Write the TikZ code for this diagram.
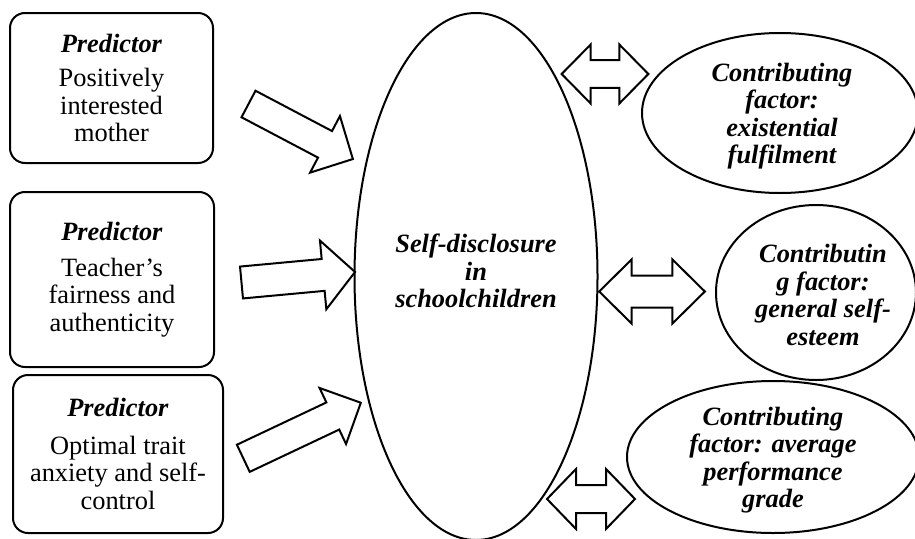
\documentclass[tikz,border=0pt]{standalone}
\usepackage{fontspec}
\setmainfont{Liberation Serif}
\usetikzlibrary{shapes.geometric}
\tikzset{
  base/.style={font=\fontsize{26.4}{27.5}\selectfont, align=center, inner sep=0pt},
  predbox/.style={base, draw, line width=2pt, rounded corners=15pt},
  ell/.style={draw, ellipse, line width=2pt, inner sep=0pt},
  bi/.style={base, font=\fontsize{26.4}{27.5}\selectfont\bfseries\itshape},
  blk/.style={draw, line width=2pt, fill=white, line join=miter}
}
\newcommand\BArrow[7]{%
  \begin{scope}[shift={(#1,#2)},rotate=#3]
    \draw[blk] (0,-#5/2) -- ({#4-#7},-#5/2) -- ({#4-#7},-#6/2) -- (#4,0)
      -- ({#4-#7},#6/2) -- ({#4-#7},#5/2) -- (0,#5/2) -- cycle;
  \end{scope}}
\newcommand\DArrow[6]{%
  \begin{scope}[shift={(#1,#2)}]
    \draw[blk] (-#3/2,0) -- ({-#3/2+#6},-#5/2) -- ({-#3/2+#6},-#4/2)
      -- ({#3/2-#6},-#4/2) -- ({#3/2-#6},-#5/2) -- (#3/2,0)
      -- ({#3/2-#6},#5/2) -- ({#3/2-#6},#4/2) -- ({-#3/2+#6},#4/2)
      -- ({-#3/2+#6},#5/2) -- cycle;
  \end{scope}}
\begin{document}
\begin{tikzpicture}[x=1pt,y=-1pt]
\useasboundingbox (0,0) rectangle (915,538);
\clip (0,0) rectangle (915,538);
% predictor boxes
\node[predbox, minimum width=203pt, minimum height=150pt] (p1) at (111.5,88)
  {\textbf{\textit{Predictor}}\\[7pt]Positively\\interested\\mother};
\node[predbox, minimum width=204pt, minimum height=175pt] (p2) at (112,279.5)
  {\textbf{\textit{Predictor}}\\[8pt]Teacher’s\\fairness and\\authenticity};
\node[predbox, minimum width=210pt, minimum height=158pt] (p3) at (118,454)
  {\textbf{\textit{Predictor}}\\[10pt]Optimal trait\\anxiety and self-\\control};
% central ellipse
\node[ell, minimum width=243pt, minimum height=527pt] (sd) at (476,276.5) {};
\node[bi] (sdt) at (476,271) {Self-disclosure\\in\\schoolchildren};
% contributing factors
\node[ell, minimum width=276pt, minimum height=160pt] (c1) at (780,113) {};
\node[bi] (c1t) at (782,116) {Contributing\\factor:\\existential\\fulfilment};
\node[ell, minimum width=200pt, minimum height=175pt] (c2) at (816,292.5) {};
\node[bi] (c2t) at (823,295) {Contributin\\g factor:\\general self-\\esteem};
\node[ell, minimum width=292pt, minimum height=152pt] (c3) at (773,457) {};
\node[bi] (c3t) at (773,460) {Contributing\\factor: average\\performance\\grade};
% block arrows (predictors -> self-disclosure)
\BArrow{248.5}{104}{-27.8}{118}{30}{64}{31.5}
\BArrow{241.5}{282.5}{5.3}{114}{32}{69}{32}
\BArrow{243.3}{458.3}{25.3}{130}{30}{62}{31}
% double arrows (self-disclosure <-> factors)
\DArrow{605}{74}{86.7}{27.6}{59}{29}
\DArrow{652}{291.5}{105.7}{32}{64}{32.4}
\DArrow{591}{499}{88}{28}{60}{29}
\end{tikzpicture}
\end{document}
